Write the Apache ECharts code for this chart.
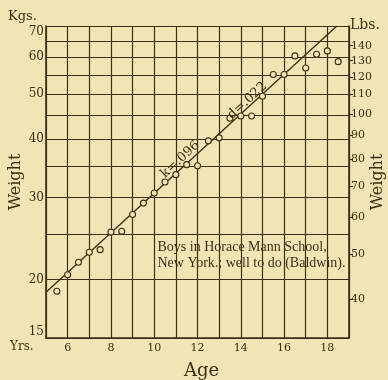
<!DOCTYPE html>
<html>
<head>
<meta charset="utf-8">
<script src="https://cdn.jsdelivr.net/npm/echarts@6/dist/echarts.min.js"></script>
<style>
  html, body { margin: 0; padding: 0; background: #F3E4B5; }
  #chart { width: 388px; height: 380px; }
</style>
</head>
<body>
<div id="chart"></div>
<script>
// ---- data ----
const ages = [5.5, 6, 6.5, 7, 7.5, 8, 8.5, 9, 9.5, 10, 10.5, 11, 11.5, 12, 12.5, 13, 13.5, 14, 14.5, 15, 15.5, 16, 16.5, 17, 17.5, 18, 18.5];
const weightKg = [18.9, 20.5, 21.8, 22.9, 23.2, 25.3, 25.4, 27.6, 29.2, 30.7, 32.4, 33.6, 35.3, 35.1, 39.7, 40.3, 44.4, 44.9, 44.9, 49.5, 55.1, 55.1, 60.4, 56.9, 60.9, 61.9, 58.7];
const fitAges = [5, 18.44];
const fitKg = [18.8, 70];
const fitNotes = ['k=.096', 'd=.022'];
const noteAges = [11.2, 14.3];
const noteKg = [36.2, 48.4];
const kgGridTicks = [15, 20, 25, 30, 35, 40, 45, 50, 55, 60, 65, 70];
const kgLabelTicks = [15, 20, 30, 40, 50, 60, 70];
const lbsTicks = [40, 50, 60, 70, 80, 90, 100, 110, 120, 130, 140];
const ageLabelTicks = [6, 8, 10, 12, 14, 16, 18];
const kgRange = [15, 70];
const ageRange = [5, 19];
const KG_PER_LB = 0.45359237;

// ---- helpers ----
const lg = Math.log10;
const unlog = v => String(Math.round(Math.pow(10, v)));
const INK = '#3d2e15';
const BG = '#F3E4B5';
const FONT = 'DejaVu Serif';

const chart = echarts.init(document.getElementById('chart'), null, { renderer: 'canvas' });

chart.setOption({
  backgroundColor: BG,
  animation: false,
  textStyle: { fontFamily: FONT, color: INK },
  grid: { left: 46, right: 39, top: 26, bottom: 42, containLabel: false, outerBoundsMode: 'none' },
  xAxis: {
    type: 'value',
    min: ageRange[0], max: ageRange[1], interval: 1,
    name: 'Age', nameLocation: 'middle', nameGap: 24,
    nameTextStyle: { fontFamily: FONT, fontSize: 18, color: INK, padding: [0, 0, 0, 8] },
    axisLine: { show: true, lineStyle: { color: INK, width: 1.6 } },
    axisTick: { show: false },
    axisLabel: { customValues: ageLabelTicks, fontFamily: FONT, fontSize: 11, color: INK, margin: 5 },
    splitLine: { show: true, lineStyle: { color: INK, width: 1.2 } }
  },
  yAxis: [
    {
      type: 'value',
      min: lg(kgRange[0]), max: lg(kgRange[1]),
      position: 'left',
      name: 'Weight', nameLocation: 'middle', nameGap: 22, nameRotate: 90, nameMoveOverlap: false,
      nameTextStyle: { fontFamily: FONT, fontSize: 16, color: INK },
      axisLine: { show: true, lineStyle: { color: INK, width: 1.6 } },
      axisTick: { show: false, customValues: kgGridTicks.map(lg) },
      axisLabel: {
        customValues: kgLabelTicks.map(lg), formatter: unlog,
        fontFamily: FONT, fontSize: 12, color: INK, margin: 2,
        verticalAlignMinLabel: 'bottom', verticalAlignMaxLabel: 'top'
      },
      splitLine: { show: true, lineStyle: { color: INK, width: 1.2 } }
    },
    {
      type: 'value',
      min: lg(kgRange[0] / KG_PER_LB), max: lg(kgRange[1] / KG_PER_LB),
      position: 'right',
      name: 'Weight', nameLocation: 'middle', nameGap: 21, nameRotate: 90, nameMoveOverlap: false,
      nameTextStyle: { fontFamily: FONT, fontSize: 16, color: INK },
      axisLine: { show: true, lineStyle: { color: INK, width: 1.6 } },
      axisTick: { show: true, length: 4, customValues: lbsTicks.map(lg), lineStyle: { color: INK, width: 1.2 } },
      axisLabel: { customValues: lbsTicks.map(lg), formatter: unlog, fontFamily: FONT, fontSize: 11, color: INK, margin: 2 },
      splitLine: { show: false }
    }
  ],
  graphic: [
    { type: 'text', left: 8, top: 10, z: 100, style: { text: 'Kgs.', font: '13px "DejaVu Serif"', fill: INK } },
    { type: 'text', left: 350, top: 18, z: 100, style: { text: 'Lbs.', font: '14px "DejaVu Serif"', fill: INK } },
    { type: 'text', left: 10, top: 341, z: 100, style: { text: 'Yrs.', font: '12px "DejaVu Serif"', fill: INK } },
    {
      type: 'group', left: 155.5, top: 236, z: 100,
      children: [
        { type: 'rect', shape: { x: 0, y: 0, width: 193, height: 36 }, style: { fill: BG } },
        { type: 'text', x: 2, y: 3, style: { text: 'Boys in Horace Mann School,\nNew York.; well to do (Baldwin).', font: '14px "Liberation Serif"', fill: INK, lineHeight: 16 } }
      ]
    }
  ],
  series: [
    {
      type: 'line',
      data: fitAges.map((a, i) => [a, lg(fitKg[i])]),
      symbol: 'none',
      lineStyle: { color: INK, width: 1.4 },
      z: 3
    },
    {
      type: 'scatter',
      data: ages.map((a, i) => [a, lg(weightKg[i])]),
      symbol: 'circle', symbolSize: 6,
      itemStyle: { color: BG, borderColor: INK, borderWidth: 1.1, opacity: 1 },
      z: 4
    },
    {
      type: 'scatter',
      data: noteAges.map((a, i) => ({ value: [a, lg(noteKg[i])], name: fitNotes[i] })),
      symbolSize: 0,
      label: {
        show: true, position: 'inside', rotate: 42.5,
        formatter: p => p.name,
        fontFamily: FONT, fontSize: 13, color: INK, textBorderWidth: 0, opacity: 1
      },
      z: 5
    }
  ]
});
</script>
</body>
</html>
